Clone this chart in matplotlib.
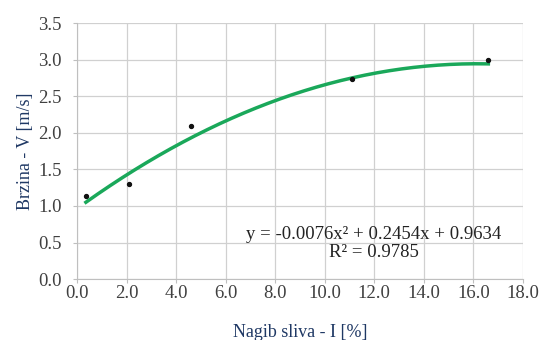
import matplotlib
matplotlib.use("Agg")
import matplotlib.pyplot as plt
import numpy as np

x_vals = [0.36, 2.1, 4.6, 11.1, 16.6]
y_vals = [1.14, 1.30, 2.10, 2.73, 3.00]
coef = [-0.0076, 0.2454, 0.9634]
x_ticks = [0, 2, 4, 6, 8, 10, 12, 14, 16, 18]
y_ticks = [0.0, 0.5, 1.0, 1.5, 2.0, 2.5, 3.0, 3.5]
eq_text = "y = -0.0076x² + 0.2454x + 0.9634\nR² = 0.9785"

plt.rcParams['font.family'] = ['Liberation Serif', 'DejaVu Serif']
fig = plt.figure(figsize=(5.42, 3.40), dpi=100)
ax = fig.add_axes([0.142, 0.179, 0.823, 0.753])

xf = np.linspace(min(x_vals), max(x_vals), 200)
yf = np.polyval(coef, xf)
ax.plot(xf, yf, color='#1aa85a', lw=2.5, zorder=2)
ax.scatter(x_vals, y_vals, s=8, color='#111111', zorder=3)

ax.set_xlim(0, 18)
ax.set_ylim(0, 3.5)
ax.set_xticks(x_ticks)
ax.set_xticklabels([f"{v:.1f}" for v in x_ticks])
ax.set_yticks(y_ticks)
ax.set_yticklabels([f"{v:.1f}" for v in y_ticks])
ax.grid(True, color='#d0d0d0', lw=0.9)
ax.set_axisbelow(True)
for s in ['top', 'right']:
    ax.spines[s].set_visible(False)
for s in ['left', 'bottom']:
    ax.spines[s].set_color('#bfbfbf')
ax.tick_params(axis='both', colors='#bfbfbf', labelcolor='#404040', labelsize=13.5, length=3)
ax.tick_params(axis='x', pad=1)
ax.tick_params(axis='y', pad=8)
ax.set_xlabel("Nagib sliva - I [%]", color='#1f3864', fontsize=13, labelpad=16)
ax.set_ylabel("Brzina - V [m/s]", color='#1f3864', fontsize=13, labelpad=3)
ax.text(0.666, 0.14, eq_text, transform=ax.transAxes, ha='center', va='center',
        fontsize=13.5, color='#222222', linespacing=1.05)

fig.savefig("out.png", dpi=100)
